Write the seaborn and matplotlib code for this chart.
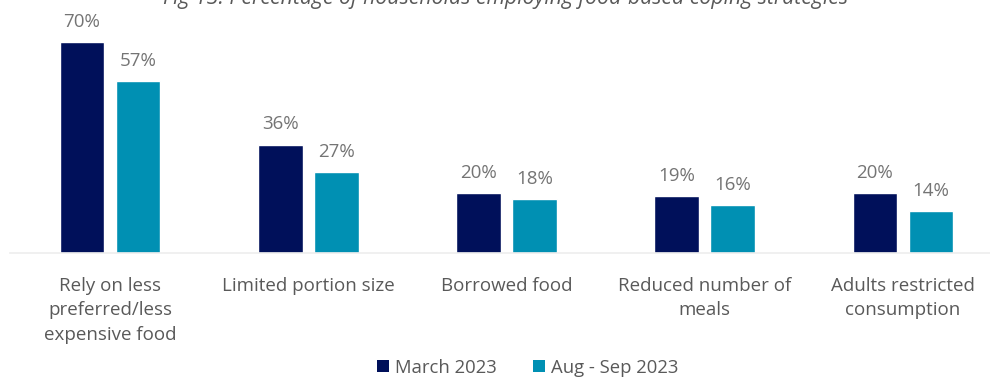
import matplotlib
matplotlib.use("Agg")
import matplotlib.pyplot as plt
import seaborn as sns
import pandas as pd
from matplotlib.patches import Patch

categories = [
    "Rely on less\npreferred/less\nexpensive food",
    "Limited portion size",
    "Borrowed food",
    "Reduced number of\nmeals",
    "Adults restricted\nconsumption",
]
series_names = ["March 2023", "Aug - Sep 2023"]
march_2023 = [70, 36, 20, 19, 20]
aug_sep_2023 = [57, 27, 18, 16, 14]
colors = ["#00105A", "#0090B3"]
title = "Fig 13: Percentage of households employing food-based coping strategies"

df = pd.DataFrame({
    "category": categories * 2,
    "period": [series_names[0]] * len(categories) + [series_names[1]] * len(categories),
    "value": march_2023 + aug_sep_2023,
})

sns.set_theme(style="white")
plt.rcParams["font.family"] = ["Open Sans", "DejaVu Sans"]
text_color = "#595959"
value_color = "#747474"

fig = plt.figure(figsize=(9.9, 3.77), dpi=100)
ax = fig.add_axes([10 / 990, 124 / 377, 980 / 990, 253 / 377])

sns.barplot(
    data=df, x="category", y="value", hue="period",
    palette=colors, saturation=1, width=0.565, gap=0.2, order=categories,
    hue_order=series_names, ax=ax, legend=False, errorbar=None,
)

ax.set_xlim(-0.504, 4.439)
ax.set_ylim(0, 84)
ax.set_xlabel("")
ax.set_ylabel("")
ax.set_yticks([])
for side in ["top", "right", "left"]:
    ax.spines[side].set_visible(False)
ax.spines["bottom"].set_color("#EDEDED")
ax.spines["bottom"].set_linewidth(1.2)
ax.tick_params(axis="x", length=0, pad=17, labelsize=13.5, labelcolor=text_color)
for lbl in ax.get_xticklabels():
    lbl.set_linespacing(1.47)

for container in ax.containers:
    ax.bar_label(container, labels=[f"{v:.0f}%" for v in container.datavalues],
                 padding=8, fontsize=13.5, color=value_color)

fig.text(0.511, 1 - 4 / 377, title, ha="center", va="baseline", fontsize=15.3,
         style="italic", color=text_color)

handles = [Patch(facecolor=c, edgecolor="none") for c in colors]
fig.legend(handles, series_names, loc="center", bbox_to_anchor=(0.533, 0.025),
           ncol=2, frameon=False, fontsize=13.3, labelcolor=text_color,
           handlelength=0.65, handleheight=0.65, handletextpad=0.3,
           columnspacing=2.0)

fig.savefig("out.png", dpi=100)
